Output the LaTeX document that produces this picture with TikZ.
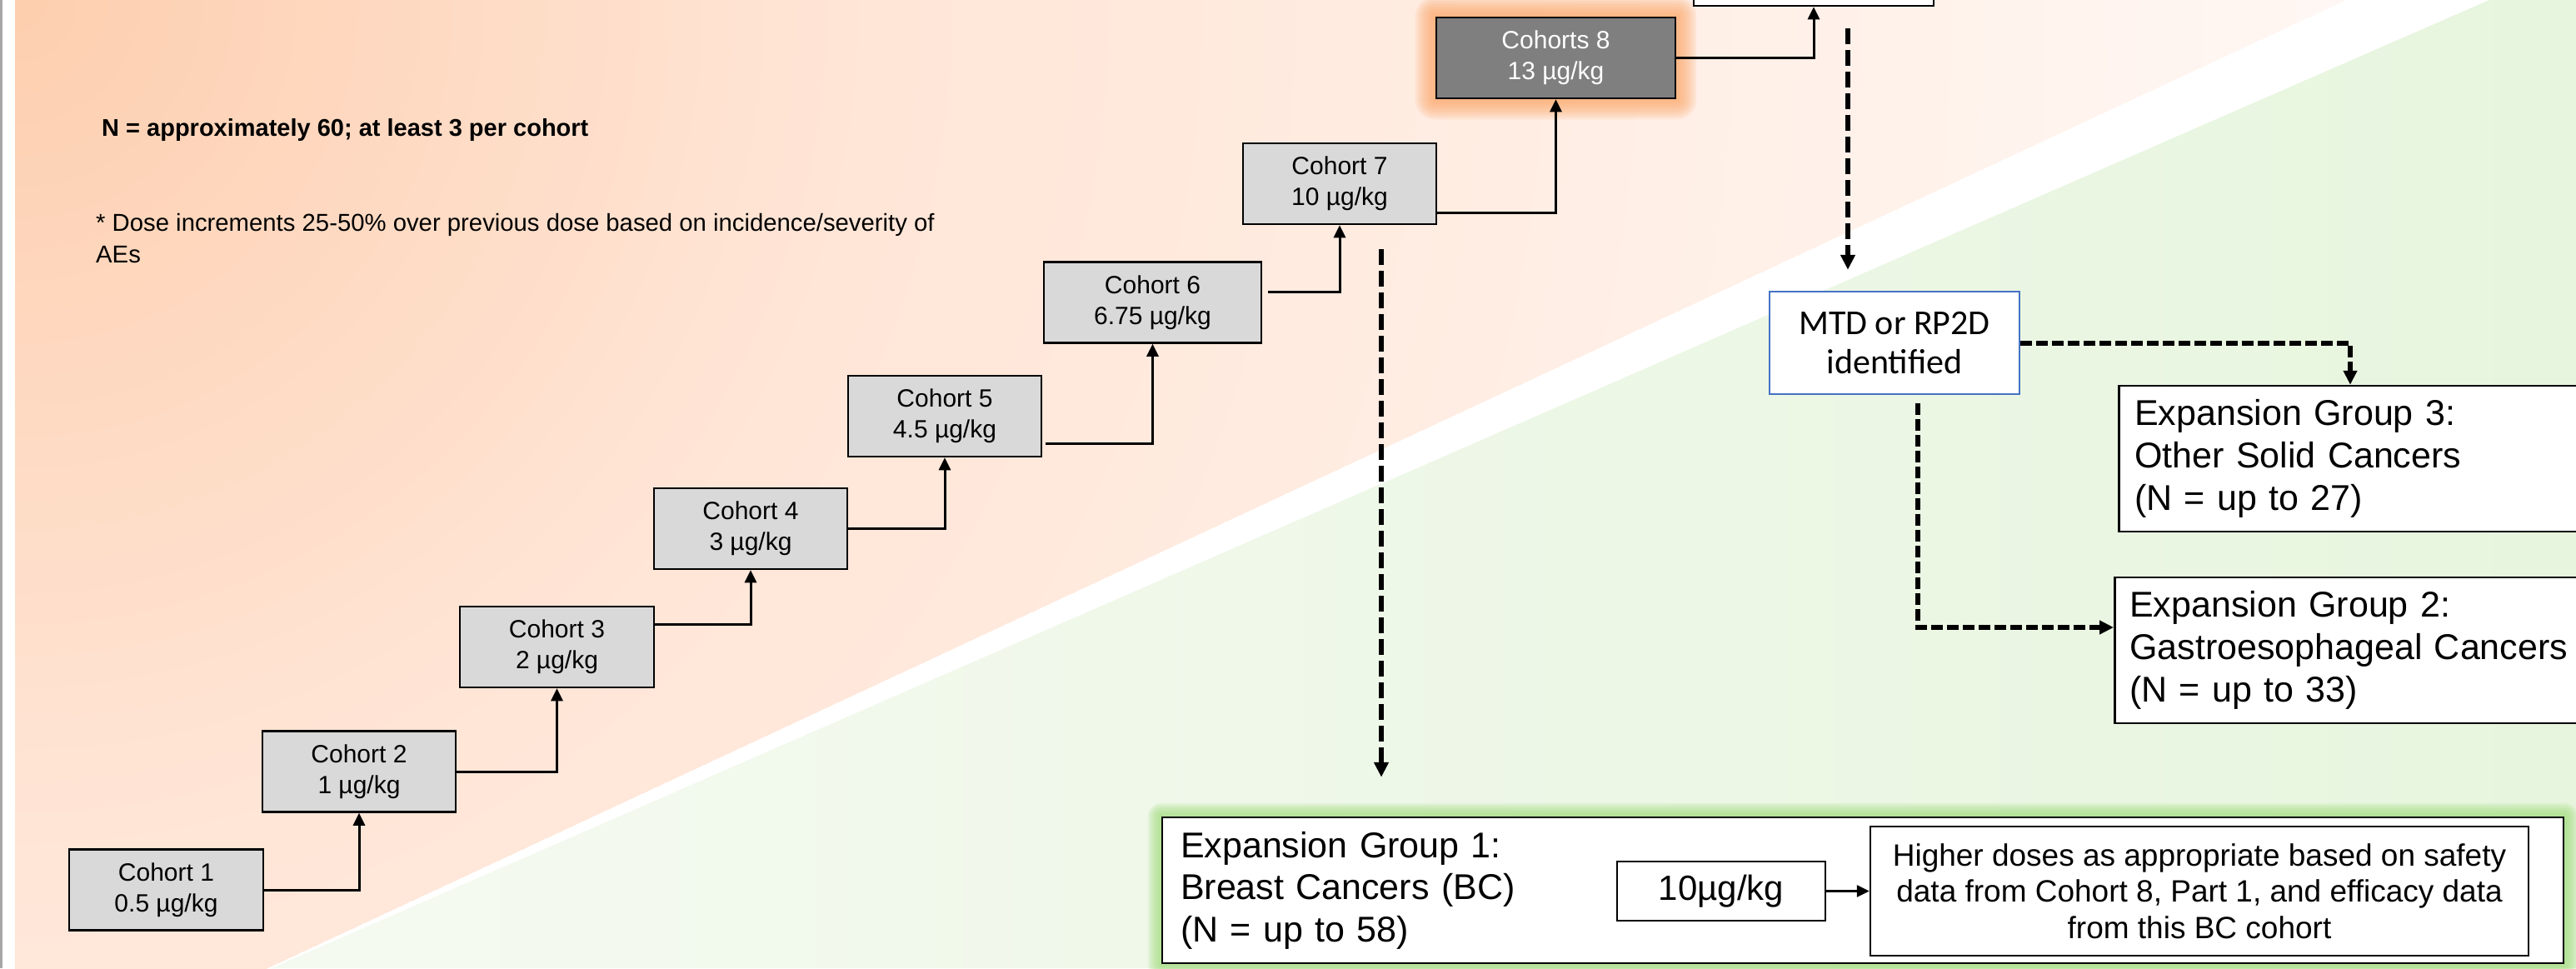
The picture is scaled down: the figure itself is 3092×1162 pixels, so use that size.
\documentclass[tikz,border=0pt]{standalone}
\usepackage{fontspec}
\setmainfont{Liberation Sans}
\newfontfamily\calibrifont{Carlito}
\usetikzlibrary{arrows.meta,calc}
\definecolor{cgray}{HTML}{D9D9D9}
\definecolor{ceightgray}{HTML}{7F7F7F}
\definecolor{leftgray}{HTML}{A6A6A6}
\definecolor{orA}{RGB}{253,206,174}
\definecolor{orM}{RGB}{255,229,214}
\definecolor{orB}{RGB}{255,247,243}
\definecolor{grA}{RGB}{245,250,241}
\definecolor{grB}{RGB}{231,245,222}
\definecolor{glowor}{RGB}{252,165,100}
\definecolor{glowgr}{RGB}{165,222,130}
\definecolor{mtdblue}{HTML}{4472C4}
\pgfdeclarelayer{bg}
\pgfdeclarelayer{glowlayer}
\pgfsetlayers{bg,glowlayer,main}
\tikzset{
  cohortbox/.style={draw=black, line width=2.5pt, fill=cgray, inner sep=0pt, minimum height=97pt, align=center, font=\fontsize{30pt}{37pt}\selectfont},
  conn/.style={line width=3pt, -{Triangle[length=15pt,width=14pt]}},
  longdash/.style={line width=6pt, dash pattern=on 19pt off 7pt, -{Triangle[length=18pt,width=17pt]}},
  mtddash/.style={line width=6pt, dash pattern=on 14pt off 5pt, -{Triangle[length=17pt,width=16pt]}},
  whitebox/.style={draw=black, line width=2.5pt, fill=white, inner sep=0pt},
  groupbox/.style={whitebox, align=left, inner xsep=19pt, inner ysep=0pt, text width=532pt, minimum height=175pt, font=\fontsize{43pt}{51pt}\selectfont},
}
\begin{document}
\begin{tikzpicture}[x=1pt,y=-1pt]
\useasboundingbox (0,0) rectangle (3092,1162);

% ---- nodes ----
\node[cohortbox, minimum width=233pt] (c1) at (199.5,1068) {Cohort 1\\0.5 µg/kg};
\node[cohortbox, minimum width=232pt] (c2) at (431,926) {Cohort 2\\1 µg/kg};
\node[cohortbox, minimum width=233pt] (c3) at (668.5,776.5) {Cohort 3\\2 µg/kg};
\node[cohortbox, minimum width=232pt] (c4) at (901,634.5) {Cohort 4\\3 µg/kg};
\node[cohortbox, minimum width=232pt] (c5) at (1134,499.5) {Cohort 5\\4.5 µg/kg};
\node[cohortbox, minimum width=261pt] (c6) at (1383.5,363) {Cohort 6\\6.75 µg/kg};
\node[cohortbox, minimum width=232pt] (c7) at (1608,220.5) {Cohort 7\\10 µg/kg};
\node[cohortbox, minimum width=287pt, fill=ceightgray, text=white] (c8) at (1867.5,69.5) {Cohorts 8\\13 µg/kg};
\node[whitebox, minimum width=288pt, minimum height=94pt] (top) at (2177,-40) {};

\node[whitebox, draw=mtdblue, minimum width=300pt, minimum height=123pt, align=center,
      font=\calibrifont\fontsize{42pt}{47pt}\selectfont] (mtd) at (2274,411.5) {MTD or RP2D\\identified};

\node[groupbox, anchor=west] (g3) at (2542,550.5) {Expansion Group 3:\\Other Solid Cancers\\(N = up to 27)};
\node[groupbox, anchor=west, inner xsep=18pt] (g2) at (2537,780.5) {Expansion Group 2:\\Gastroesophageal Cancers\\(N = up to 33)};

\node[whitebox, align=left, inner xsep=22pt, text width=1638pt, minimum height=175pt,
      font=\fontsize{43pt}{50.5pt}\selectfont] (g1) at (2236,1068.5) {Expansion Group 1:\\Breast Cancers (BC)\\(N = up to 58)};
\node[whitebox, minimum width=250pt, minimum height=71pt, font=\fontsize{42pt}{48pt}\selectfont] (ten) at (2066,1069.5) {10µg/kg};
\node[whitebox, minimum width=790pt, minimum height=155pt, align=center,
      font=\fontsize{37pt}{43.5pt}\selectfont] (hi) at (2640,1069.5) {Higher doses as appropriate based on safety\\data from Cohort 8, Part 1, and efficacy data\\from this BC cohort};

\node[anchor=base west, inner sep=0pt, font=\bfseries\fontsize{29pt}{35pt}\selectfont] (n1) at (122,163) {N = approximately 60; at least 3 per cohort};
\node[anchor=west, inner sep=0pt, align=left, font=\fontsize{29.3pt}{37.5pt}\selectfont] (n2) at (115,286) {* Dose increments 25-50\% over previous dose based on incidence/severity of\\AEs};

% ---- background ----
\begin{pgfonlayer}{bg}
  \fill[white] (0,0) rectangle (3092,1162);
  \fill[leftgray] (0,0) rectangle (3,1162);
  \begin{scope}
    \clip (18,0) -- (2815,0) -- (320,1162) -- (18,1162) -- cycle;
    \fill[orB] (18,0) rectangle (2815,1162);
    \foreach \i in {80,79,...,1} {
      \pgfmathsetmacro{\r}{37.5*\i}
      \ifdim \r pt > 1000pt
        \pgfmathsetmacro{\p}{(\r-1000)/18}
        \fill[color={orB!\p!orM}] (18,0) circle (\r pt);
      \else
        \pgfmathsetmacro{\p}{\r/10}
        \fill[color={orM!\p!orA}] (18,0) circle (\r pt);
      \fi
    }
  \end{scope}
  \shade[left color=grA, right color=grB] (2988,0) -- (3092,0) -- (3092,1162) -- (326,1162) -- cycle;
\end{pgfonlayer}
\begin{pgfonlayer}{glowlayer}
  \foreach \d in {3,6,...,24}
    \fill[glowor, opacity=0.14, rounded corners=\d pt] ($(c8.south west)+(-\d pt,-\d pt)$) rectangle ($(c8.north east)+(\d pt,\d pt)$);
  \foreach \d in {2,4,...,16}
    \fill[glowgr, opacity=0.16, rounded corners=\d pt] ($(g1.south west)+(-\d pt,-\d pt)$) rectangle ($(g1.north east)+(\d pt,\d pt)$);
\end{pgfonlayer}

% ---- solid connectors ----
\draw[conn] (c1.east) -| (c2.south);
\draw[conn] (c2.east) -| (c3.south);
\draw[conn] ([yshift=27pt]c3.east) -| (c4.south);
\draw[conn] (c4.east) -| (c5.south);
\draw[conn] ([xshift=4pt,yshift=-33pt]c5.east) -| (c6.south);
\draw[conn] ([xshift=7pt,yshift=13pt]c6.east) -| (c7.south);
\draw[conn] ([yshift=-35pt]c7.east) -| (c8.south);
\draw[conn] (c8.east) -| (top.south);
\draw[conn] (ten.east) -- (hi.west);

% ---- dashed connectors ----
\coordinate (xa) at (2218,0);
\coordinate (xb) at (1658,0);
\coordinate (xc) at (2821,0);
\coordinate (d1) at (2302,753);
\draw[longdash, shorten <=26pt, shorten >=25pt] (top.south -| xa) -- (mtd.north -| xa);
\draw[longdash, shorten <=29pt, shorten >=47pt] (c7.south -| xb) -- (g1.north -| xb);
\draw[mtddash] (mtd.east) -| (g3.north -| xc);
\draw[mtddash] ([yshift=-10pt]mtd.south -| d1) -- (d1) -- (g2.west |- d1);
\end{tikzpicture}
\end{document}
